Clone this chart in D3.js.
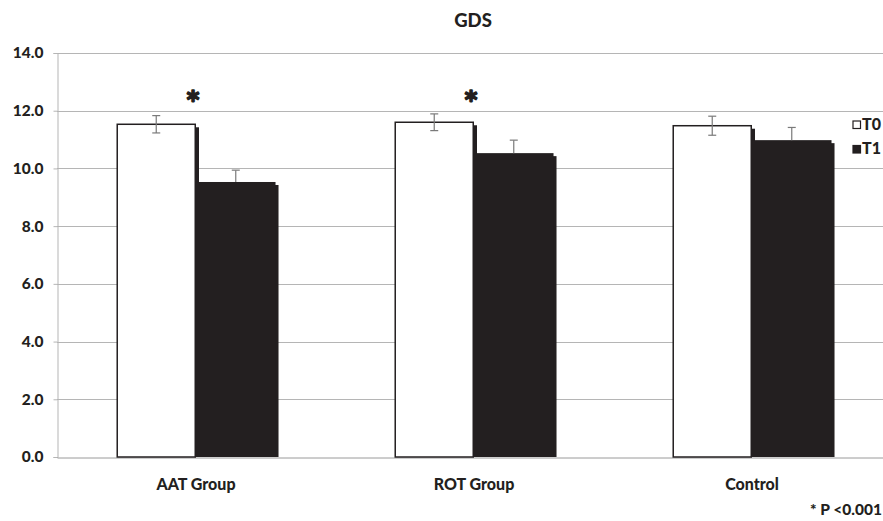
<!DOCTYPE html>
<html>
<head>
<meta charset="utf-8">
<script src="https://cdn.jsdelivr.net/npm/d3@7"></script>
<style>
  html, body { margin: 0; padding: 0; background: #fff; }
  svg { display: block; }
  text { font-family: Lato, "Open Sans", sans-serif; font-weight: 900; fill: #231f20; }
</style>
</head>
<body>
<svg id="chart" width="883" height="521"></svg>
<script>
const categories = ["AAT Group", "ROT Group", "Control"];
const seriesNames = ["T0", "T1"];
const valuesT0 = [11.53, 11.6, 11.48];
const valuesT1 = [9.53, 10.53, 10.98];
const errorsT0 = [0.3, 0.29, 0.33];
const errorsT1 = [0.41, 0.45, 0.44];
const sigLabels = ["*", "*", ""];
const yTicks = [0, 2, 4, 6, 8, 10, 12, 14];
const title = "GDS";
const footnote = "* P <0.001";

const svg = d3.select("#chart");
const dark = "#231f20";
const fontStack = "Lato, 'Open Sans', sans-serif";

const y = d3.scaleLinear().domain([0, 14]).range([457, 53]);
const x0 = d3.scaleBand().domain(categories).range([57, 891]).padding(0);
const x1 = d3.scaleBand().domain(seriesNames).range([0, x0.bandwidth()]).paddingInner(0).paddingOuter(0.748);

// gridlines
svg.append("g").selectAll("line").data(yTicks.filter(d => d > 0)).join("line")
  .attr("x1", 57).attr("x2", 883)
  .attr("y1", d => Math.round(y(d)) + 0.5).attr("y2", d => Math.round(y(d)) + 0.5)
  .attr("stroke", "#b5b5b5").attr("stroke-width", 1);

// y axis
const yAxis = d3.axisLeft(y).tickValues(yTicks).tickFormat(d3.format(".1f")).tickSize(4).tickPadding(10);
const gy = svg.append("g").attr("transform", "translate(57.5,0)").call(yAxis);
gy.select(".domain").attr("stroke", "#b5b5b5");
gy.selectAll(".tick line").attr("stroke", "#b5b5b5");
gy.selectAll(".tick text").style("font-size", "15.5px").attr("fill", dark)
  .style("font-family", fontStack).style("font-weight", "900");

// x axis baseline
const xAxis = d3.axisBottom(x0).tickSize(0).tickPadding(21);
const gx = svg.append("g").attr("transform", `translate(0,${Math.round(y(0)) + 0.5})`).call(xAxis);
gx.select(".domain").attr("stroke", "#9a9a9a");
gx.selectAll(".tick text").style("font-size", "16px").attr("fill", dark)
  .style("font-family", fontStack).style("font-weight", "900");

const data = categories.map((c, i) => ({
  cat: c,
  sig: sigLabels[i],
  bars: [
    { s: "T0", v: valuesT0[i], e: errorsT0[i] },
    { s: "T1", v: valuesT1[i], e: errorsT1[i] }
  ]
}));

const groups = svg.append("g").selectAll("g").data(data).join("g")
  .attr("transform", d => `translate(${x0(d.cat)},0)`);

const sh = 3;
function drawBar(g, b) {
  const bx = x1(b.s), bw = x1.bandwidth();
  const top = y(b.v), base = y(0);
  g.append("rect").attr("x", bx + sh).attr("y", top + sh)
    .attr("width", bw).attr("height", base - top - sh).attr("fill", dark);
  if (b.s === "T0") {
    g.append("rect").attr("x", bx + 0.75).attr("y", top)
      .attr("width", bw - 1.5).attr("height", base - top)
      .attr("fill", "#fff").attr("stroke", dark).attr("stroke-width", 1.5);
  } else {
    g.append("rect").attr("x", bx).attr("y", top)
      .attr("width", bw).attr("height", base - top).attr("fill", dark);
  }
}
function drawErr(g, b, upperOnly) {
  const cx = x1(b.s) + x1.bandwidth() / 2;
  const e = g.append("g").attr("stroke", "#7a7a7a").attr("stroke-width", 1.2);
  e.append("line").attr("x1", cx).attr("x2", cx).attr("y1", y(b.v + b.e)).attr("y2", upperOnly ? y(b.v) : y(b.v - b.e));
  e.append("line").attr("x1", cx - 4).attr("x2", cx + 4).attr("y1", y(b.v + b.e)).attr("y2", y(b.v + b.e));
  if (!upperOnly) {
    e.append("line").attr("x1", cx - 4).attr("x2", cx + 4).attr("y1", y(b.v - b.e)).attr("y2", y(b.v - b.e));
  }
}

groups.each(function(d) {
  const g = d3.select(this);
  drawBar(g, d.bars[0]);
  drawErr(g, d.bars[0], false);
  drawBar(g, d.bars[1]);
  drawErr(g, d.bars[1], true);
  if (d.sig) {
    g.append("text").attr("x", x0.bandwidth() / 2 - 3).attr("y", 108)
      .attr("text-anchor", "middle")
      .style("font-family", "'DejaVu Sans', sans-serif").style("font-weight", "bold")
      .style("font-size", "24px")
      .attr("stroke", dark).attr("stroke-width", 1.6).attr("stroke-linejoin", "round")
      .text(d.sig);
  }
});

// title
svg.append("text").attr("x", 473).attr("y", 27).attr("text-anchor", "middle")
  .style("font-size", "18.5px").text(title);

// legend
const legend = svg.append("g");
seriesNames.forEach((s, i) => {
  const ly = 121 + i * 24.5;
  legend.append("rect").attr("x", 853).attr("y", ly).attr("width", 7.5).attr("height", 7.5)
    .attr("fill", s === "T0" ? "#fff" : dark).attr("stroke", dark).attr("stroke-width", 1.2);
  legend.append("text").attr("x", 862).attr("y", ly + 8.8).style("font-size", "16px").text(s);
});

// footnote
svg.append("text").attr("x", 810).attr("y", 515).style("font-size", "15.5px").text(footnote);
</script>
</body>
</html>
